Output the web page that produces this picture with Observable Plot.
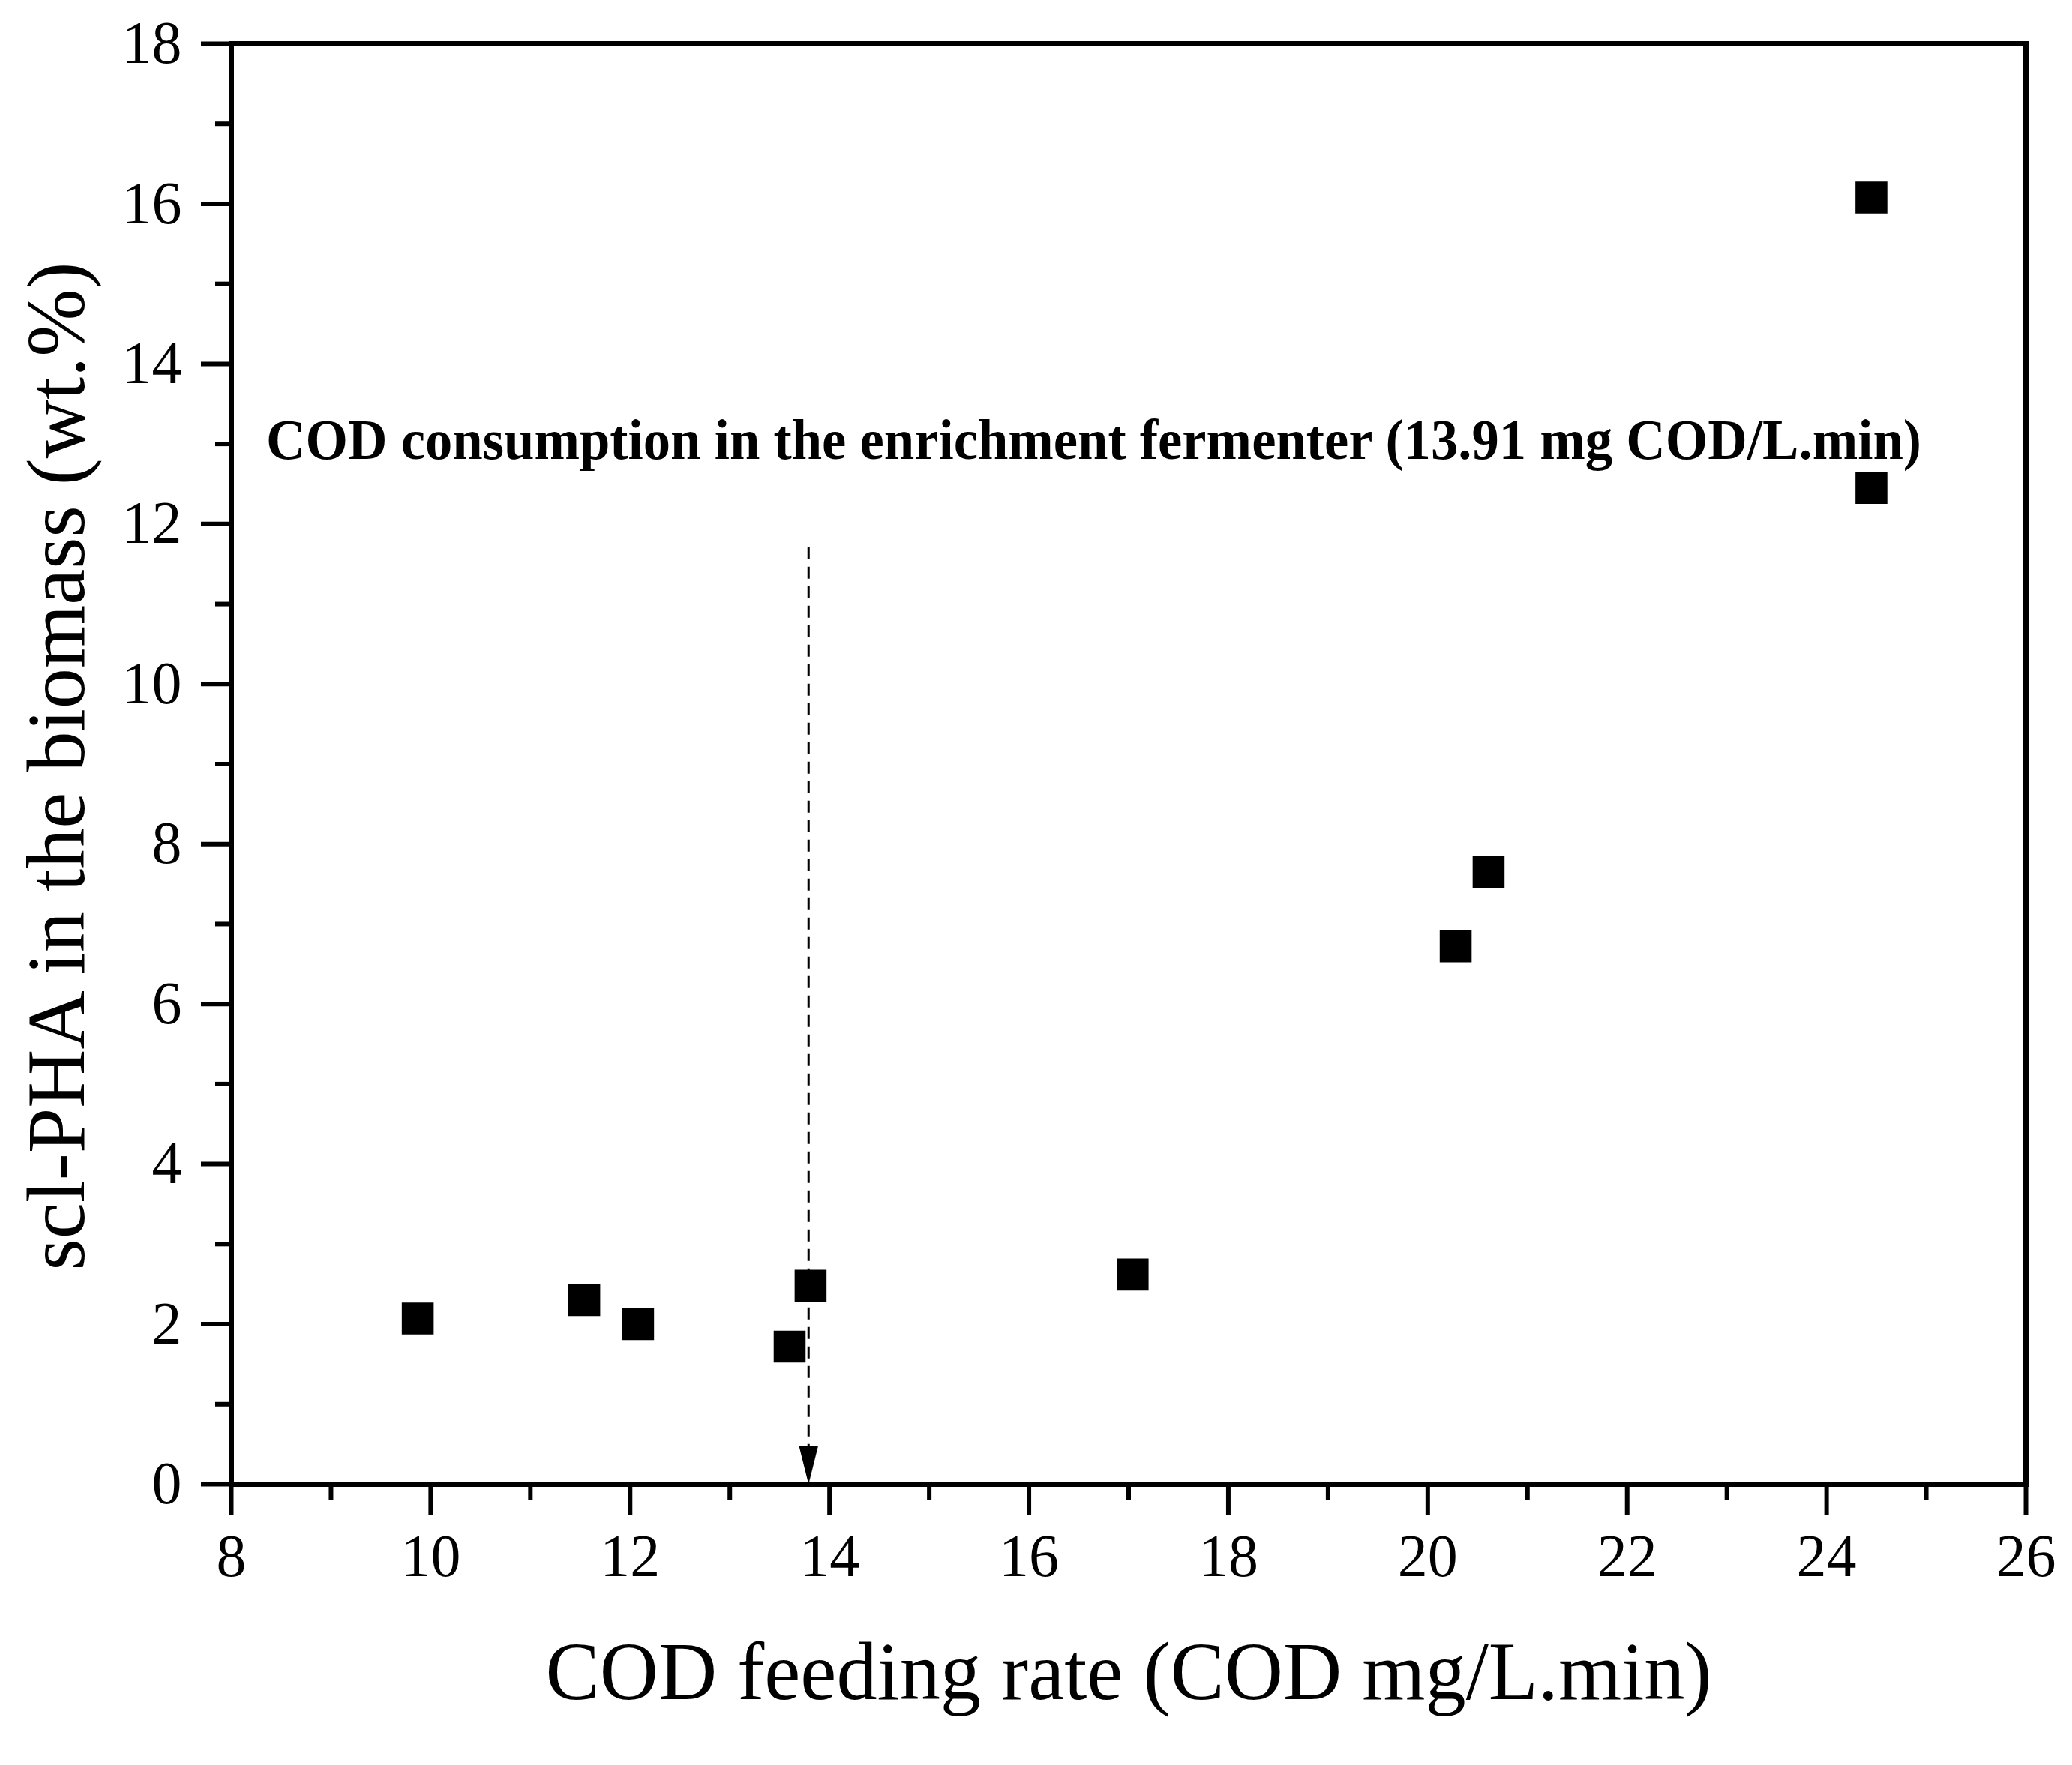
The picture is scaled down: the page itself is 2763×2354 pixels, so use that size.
<!DOCTYPE html>
<html><head><meta charset="utf-8">
<script src="https://cdn.jsdelivr.net/npm/d3@7"></script>
<script src="https://cdn.jsdelivr.net/npm/@observablehq/plot@0.6"></script>
<style>body{margin:0;background:#fff}</style>
</head><body><div id="chart"></div>
<script>
const codFeed = [9.87, 11.54, 12.08, 13.60, 13.81, 17.04, 20.28, 20.61, 24.45, 24.45];
const phaContent = [2.07, 2.30, 2.00, 1.72, 2.48, 2.62, 6.72, 7.65, 16.08, 12.45];
const xMajorTicks = [8, 10, 12, 14, 16, 18, 20, 22, 24, 26];
const xMinorTicks = [9, 11, 13, 15, 17, 19, 21, 23, 25];
const yMajorTicks = [0, 2, 4, 6, 8, 10, 12, 14, 16, 18];
const yMinorTicks = [1, 3, 5, 7, 9, 11, 13, 15, 17];
const xTitle = "COD feeding rate (COD mg/L.min)";
const yTitle = "scl-PHA in the biomass (wt.%)";
const noteText = "COD consumption in the enrichment fermenter (13.91 mg COD/L.min)";
const arrowX = [13.79];
const arrowTop = [11.71];

const points = codFeed.map((x, i) => ({x, y: phaContent[i]}));
const arrows = arrowX.map((x, i) => ({x, y1: arrowTop[i], y2: 0}));
const font = "'Liberation Serif', 'Times New Roman', serif";

const svg = Plot.plot({
  width: 2763, height: 2354,
  marginLeft: 308, marginRight: 62, marginTop: 58, marginBottom: 375,
  style: {fontFamily: font, background: "white", color: "black", overflow: "visible"},
  x: {domain: [8, 26], label: null},
  y: {domain: [0, 18], label: null},
  marks: [
    Plot.axisX({ticks: xMajorTicks, tickSize: 42, tickPadding: 24, fontSize: 80, strokeWidth: 6, label: null, tickFormat: d => String(d)}),
    Plot.axisX({ticks: xMinorTicks, tickSize: 22, strokeWidth: 6, label: null, tickFormat: () => ""}),
    Plot.axisY({ticks: yMajorTicks, tickSize: 40, tickPadding: 26, fontSize: 80, strokeWidth: 6, label: null, tickFormat: d => String(d)}),
    Plot.axisY({ticks: yMinorTicks, tickSize: 21, strokeWidth: 6, label: null, tickFormat: () => ""}),
    Plot.frame({stroke: "black", strokeWidth: 7}),
    Plot.link(arrows, {x1: "x", x2: "x", y1: "y1", y2: "y2", stroke: "black", strokeWidth: 3, strokeDasharray: "16,10"}),
    Plot.dot(points, {x: "x", y: "y", symbol: "square", r: 24, fill: "black", stroke: "none"}),
    Plot.text([noteText], {x: 8.35, y: 13.04, text: d => d, textAnchor: "start", fontSize: 76, fontWeight: "bold", fill: "black"}),
    Plot.text([xTitle], {frameAnchor: "bottom", dy: 286, text: d => d, textAnchor: "middle", fontSize: 110, fill: "black"}),
    Plot.text([yTitle], {frameAnchor: "left", dx: -232, dy: 3, rotate: -90, text: d => d, textAnchor: "middle", fontSize: 110, fill: "black"})
  ]
});

// filled arrowhead marker for the dashed guide line
const ns = "http://www.w3.org/2000/svg";
const defs = document.createElementNS(ns, "defs");
const marker = document.createElementNS(ns, "marker");
marker.setAttribute("id", "trihead");
marker.setAttribute("viewBox", "0 0 52 26");
marker.setAttribute("refX", "52");
marker.setAttribute("refY", "13");
marker.setAttribute("markerWidth", "52");
marker.setAttribute("markerHeight", "26");
marker.setAttribute("markerUnits", "userSpaceOnUse");
marker.setAttribute("orient", "auto");
const mp = document.createElementNS(ns, "path");
mp.setAttribute("d", "M0,0L52,13L0,26Z");
mp.setAttribute("fill", "black");
marker.appendChild(mp);
defs.appendChild(marker);
svg.insertBefore(defs, svg.firstChild);
svg.querySelectorAll('g[aria-label="link"] path').forEach(p => p.setAttribute("marker-end", "url(#trihead)"));

const lengths = new Map([[xTitle, 1555], [yTitle, 1345], [noteText, 2207]]);
svg.querySelectorAll("text").forEach(t => {
  const L = lengths.get(t.textContent);
  if (L) { t.setAttribute("textLength", L); t.setAttribute("lengthAdjust", "spacingAndGlyphs"); }
});

document.getElementById("chart").appendChild(svg);
</script>
</body></html>
